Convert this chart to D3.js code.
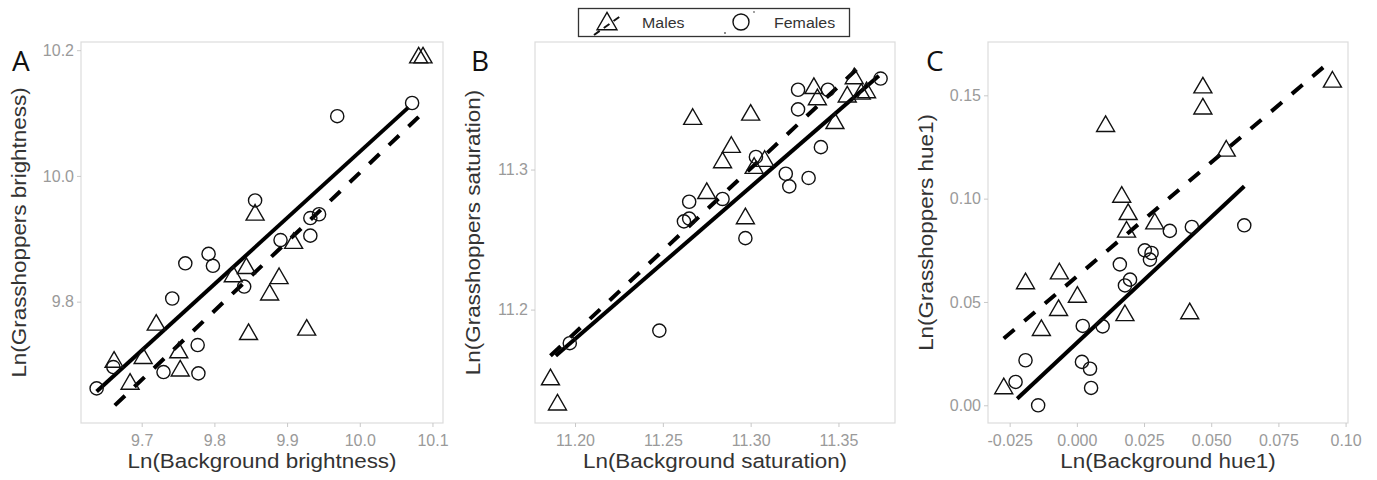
<!DOCTYPE html>
<html>
<head>
<meta charset="utf-8">
<script src="https://cdn.jsdelivr.net/npm/d3@7"></script>
<style>
  html, body { margin: 0; padding: 0; background: #fff; }
  svg { display: block; }
</style>
</head>
<body>
<svg id="chart" width="1377" height="480"></svg>
<script>
// ---------- DATA ----------
// Panel A: brightness
const aMaleX = [10.081, 10.087, 9.856, 9.909, 9.889, 9.876, 9.844, 9.826, 9.927, 9.847, 9.720, 9.702, 9.662, 9.684, 9.751, 9.753];
const aMaleY = [10.188, 10.188, 9.938, 9.893, 9.837, 9.811, 9.853, 9.840, 9.755, 9.748, 9.763, 9.710, 9.704, 9.669, 9.719, 9.690];
const aFemaleX = [9.638, 9.661, 9.730, 9.778, 9.777, 9.742, 9.760, 9.792, 9.798, 9.856, 9.841, 9.891, 9.932, 9.932, 9.944, 9.969, 10.072];
const aFemaleY = [9.662, 9.696, 9.688, 9.686, 9.731, 9.805, 9.861, 9.876, 9.857, 9.961, 9.824, 9.898, 9.905, 9.933, 9.939, 10.095, 10.116];
const aMaleFit = [[9.663, 9.635], [10.092, 10.106]];
const aFemaleFit = [[9.638, 9.657], [10.067, 10.109]];
const aXTicks = [9.7, 9.8, 9.9, 10.0, 10.1];
const aXLabels = ["9.7", "9.8", "9.9", "10.0", "10.1"];
const aYTicks = [9.8, 10.0, 10.2];
const aYLabels = ["9.8", "10.0", "10.2"];

// Panel B: saturation
const bMaleX = [11.186, 11.190, 11.267, 11.300, 11.289, 11.284, 11.275, 11.297, 11.302, 11.308, 11.336, 11.338, 11.348, 11.355, 11.359, 11.366, 11.363];
const bMaleY = [11.150, 11.132, 11.336, 11.339, 11.316, 11.305, 11.283, 11.265, 11.301, 11.306, 11.358, 11.350, 11.333, 11.352, 11.365, 11.355, 11.354];
const bFemaleX = [11.197, 11.248, 11.265, 11.262, 11.265, 11.284, 11.297, 11.303, 11.320, 11.322, 11.333, 11.340, 11.327, 11.327, 11.344, 11.374];
const bFemaleY = [11.176, 11.185, 11.277, 11.263, 11.265, 11.279, 11.251, 11.309, 11.297, 11.288, 11.294, 11.316, 11.357, 11.343, 11.357, 11.365];
const bMaleFit = [[11.186, 11.167], [11.365, 11.377]];
const bFemaleFit = [[11.189, 11.167], [11.373, 11.367]];
const bXTicks = [11.20, 11.25, 11.30, 11.35];
const bXLabels = ["11.20", "11.25", "11.30", "11.35"];
const bYTicks = [11.2, 11.3];
const bYLabels = ["11.2", "11.3"];

// Panel C: hue1
const cMaleX = [-0.0272, -0.0191, -0.0132, -0.0068, -0.0065, 0.0002, 0.0107, 0.0167, 0.0191, 0.0185, 0.0290, 0.0179, 0.0420, 0.0469, 0.0469, 0.0556, 0.0951];
const cMaleY = [0.0081, 0.0589, 0.0363, 0.0460, 0.0637, 0.0524, 0.1350, 0.1008, 0.0924, 0.0839, 0.0879, 0.0435, 0.0444, 0.1537, 0.1435, 0.1231, 0.1565];
const cFemaleX = [-0.0144, -0.0228, -0.0191, 0.0019, 0.0049, 0.0053, 0.0022, 0.0096, 0.0160, 0.0179, 0.0198, 0.0253, 0.0278, 0.0272, 0.0346, 0.0428, 0.0623];
const cFemaleY = [0.0000, 0.0113, 0.0218, 0.0210, 0.0177, 0.0084, 0.0384, 0.0382, 0.0682, 0.0580, 0.0608, 0.0750, 0.0737, 0.0705, 0.0844, 0.0863, 0.0871];
const cMaleFit = [[-0.0272, 0.0323], [0.0948, 0.1670]];
const cFemaleFit = [[-0.0222, 0.0032], [0.0623, 0.1060]];
const cXTicks = [-0.025, 0.000, 0.025, 0.050, 0.075, 0.100];
const cXLabels = ["-0.025", "0.000", "0.025", "0.050", "0.075", "0.10"];
const cYTicks = [0.00, 0.05, 0.10, 0.15];
const cYLabels = ["0.00", "0.05", "0.10", "0.15"];

const panelLetters = ["A", "B", "C"];
const xTitles = ["Ln(Background brightness)", "Ln(Background saturation)", "Ln(Background hue1)"];
const yTitles = ["Ln(Grasshoppers brightness)", "Ln(Grasshoppers saturation)", "Ln(Grasshoppers hue1)"];
const legendLabels = ["Males", "Females"];

// ---------- LAYOUT ----------
const panels = [
  { letter: panelLetters[0], xt: xTitles[0], yt: yTitles[0],
    mx: aMaleX, my: aMaleY, fx: aFemaleX, fy: aFemaleY, mfit: aMaleFit, ffit: aFemaleFit,
    xTicks: aXTicks, xLabels: aXLabels, yTicks: aYTicks, yLabels: aYLabels,
    xDom: [9.6165, 10.1145], yDom: [9.607, 10.213],
    left: 81, right: 443, letterX: 12 },
  { letter: panelLetters[1], xt: xTitles[1], yt: yTitles[1],
    mx: bMaleX, my: bMaleY, fx: bFemaleX, fy: bFemaleY, mfit: bMaleFit, ffit: bFemaleFit,
    xTicks: bXTicks, xLabels: bXLabels, yTicks: bYTicks, yLabels: bYLabels,
    xDom: [11.1772, 11.3822], yDom: [11.119, 11.3911],
    left: 535, right: 895, letterX: 471 },
  { letter: panelLetters[2], xt: xTitles[2], yt: yTitles[2],
    mx: cMaleX, my: cMaleY, fx: cFemaleX, fy: cFemaleY, mfit: cMaleFit, ffit: cFemaleFit,
    xTicks: cXTicks, xLabels: cXLabels, yTicks: cYTicks, yLabels: cYLabels,
    xDom: [-0.03306, 0.1009], yDom: [-0.00857, 0.1758],
    left: 988, right: 1348, letterX: 926 }
];
const plotTop = 42, plotBottom = 423;
const titleStretch = 1.15;

const svg = d3.select("#chart");
const FONT = "'Liberation Sans', Arial, sans-serif";

function triPath(cx, cy, s) {
  const h = s * Math.sqrt(3) / 2;
  return `M${cx},${cy - h * 2 / 3}L${cx + s / 2},${cy + h / 3}L${cx - s / 2},${cy + h / 3}Z`;
}

panels.forEach(p => {
  const x = d3.scaleLinear().domain(p.xDom).range([p.left, p.right]);
  const y = d3.scaleLinear().domain(p.yDom).range([plotBottom, plotTop]);
  const g = svg.append("g");

  // panel border
  g.append("rect").attr("x", p.left).attr("y", plotTop)
    .attr("width", p.right - p.left).attr("height", plotBottom - plotTop)
    .attr("fill", "none").attr("stroke", "#dcdcdc").attr("stroke-width", 1.2);

  // axes
  const xa = g.append("g").attr("transform", `translate(0,${plotBottom})`)
    .call(d3.axisBottom(x).tickValues(p.xTicks).tickFormat((d, i) => p.xLabels[i]).tickSize(4).tickPadding(8));
  const ya = g.append("g").attr("transform", `translate(${p.left},0)`)
    .call(d3.axisLeft(y).tickValues(p.yTicks).tickFormat((d, i) => p.yLabels[i]).tickSize(4).tickPadding(3));
  [xa, ya].forEach(a => {
    a.select(".domain").remove();
    a.selectAll(".tick line").attr("stroke", "#c8c8c8");
    a.selectAll(".tick text").attr("fill", "#9a9a9a").style("font-family", FONT).style("font-size", "16px");
  });

  // fit lines
  const line = d3.line().x(d => x(d[0])).y(d => y(d[1]));
  g.append("path").attr("d", line(p.ffit)).attr("fill", "none")
    .attr("stroke", "#000").attr("stroke-width", 4);
  g.append("path").attr("d", line(p.mfit)).attr("fill", "none")
    .attr("stroke", "#000").attr("stroke-width", 4).attr("stroke-dasharray", "14,13");

  // points
  g.selectAll("circle.f").data(p.fx.map((v, i) => [v, p.fy[i]])).join("circle")
    .attr("cx", d => x(d[0])).attr("cy", d => y(d[1])).attr("r", 6.6)
    .attr("fill", "none").attr("stroke", "#111").attr("stroke-width", 1.4);
  g.selectAll("path.m").data(p.mx.map((v, i) => [v, p.my[i]])).join("path")
    .attr("d", d => triPath(x(d[0]), y(d[1]), 18))
    .attr("fill", "none").attr("stroke", "#111").attr("stroke-width", 1.4);

  // titles
  svg.append("text")
    .attr("transform", `translate(${(p.left + p.right) / 2},468) scale(${titleStretch},1)`)
    .attr("text-anchor", "middle").attr("fill", "#333")
    .style("font-family", FONT).style("font-size", "19.5px").text(p.xt);
  svg.append("text")
    .attr("transform", `translate(${p.left - 55},${(plotTop + plotBottom) / 2}) rotate(-90) scale(${titleStretch},1)`)
    .attr("text-anchor", "middle").attr("fill", "#333")
    .style("font-family", FONT).style("font-size", "19.5px").text(p.yt);
  svg.append("text").attr("x", p.letterX).attr("y", 71)
    .attr("fill", "#111").style("font-family", "'Open Sans', sans-serif").style("font-size", "28px")
    .text(p.letter);
});

// ---------- LEGEND ----------
const lg = svg.append("g");
lg.append("rect").attr("x", 578.5).attr("y", 8.5).attr("width", 271).attr("height", 28)
  .attr("fill", "#fff").attr("stroke", "#333").attr("stroke-width", 1.3);
lg.append("path").attr("d", triPath(607, 24, 20)).attr("fill", "none").attr("stroke", "#111").attr("stroke-width", 1.4);
lg.append("line").attr("x1", 594).attr("y1", 35).attr("x2", 622).attr("y2", 15)
  .attr("stroke", "#111").attr("stroke-width", 2).attr("stroke-dasharray", "7,5");
lg.append("text").attr("transform", "translate(642,28) scale(1.1,1)").attr("fill", "#333")
  .style("font-family", FONT).style("font-size", "14.5px").text(legendLabels[0]);
lg.append("circle").attr("cx", 741).attr("cy", 22).attr("r", 8)
  .attr("fill", "none").attr("stroke", "#111").attr("stroke-width", 1.4);
lg.append("circle").attr("cx", 725).attr("cy", 33).attr("r", 0.9).attr("fill", "#555");
lg.append("circle").attr("cx", 754).attr("cy", 12).attr("r", 0.9).attr("fill", "#777");
lg.append("text").attr("transform", "translate(774,28) scale(1.1,1)").attr("fill", "#333")
  .style("font-family", FONT).style("font-size", "14.5px").text(legendLabels[1]);
</script>
</body>
</html>
